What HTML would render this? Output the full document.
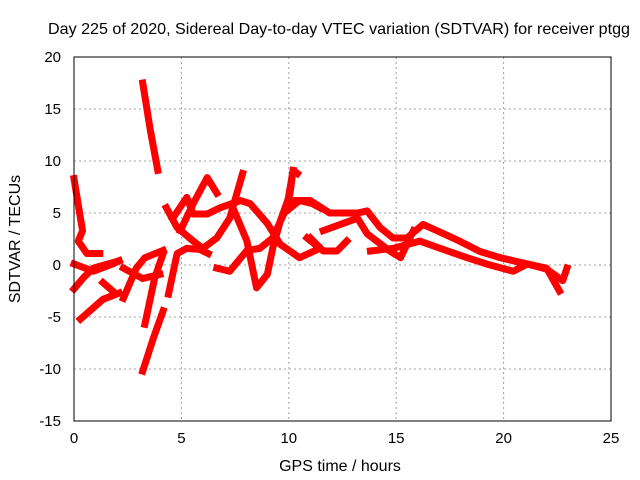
<!DOCTYPE html>
<html><head><meta charset="utf-8"><style>
body{margin:0;background:#fff}
svg{display:block;font-family:"Liberation Sans",sans-serif}
</style></head><body>
<svg width="640" height="480">
<g id="grid"></g>
<g id="series"></g>
<rect x="74" y="57" width="537" height="364" fill="none" stroke="#000" stroke-width="1"/>
<g id="ticks" font-size="15" fill="#000"></g>
<text x="339" y="34" text-anchor="middle" font-size="16" textLength="582" lengthAdjust="spacingAndGlyphs">Day 225 of 2020, Sidereal Day-to-day VTEC variation (SDTVAR) for receiver ptgg</text>
<text x="340" y="471" text-anchor="middle" font-size="16">GPS time / hours</text>
<text transform="translate(20,239) rotate(-90)" text-anchor="middle" font-size="16">SDTVAR / TECUs</text>
</svg>
<script>
const xTicks=[0,5,10,15,20,25];
const yTicks=[-15,-10,-5,0,5,10,15,20];
const trackA=[[3.2,17.5],[3.55,13],[3.9,9.1]];
const trackB=[[3.2,-10.2],[3.7,-7],[4.15,-4.4]];
const trackC=[[0,8.3],[0.3,4.5],[0.4,3.3],[0.2,2.3],[0.6,1.1],[1.2,1.1]];
const trackD=[[0,-2.3],[0.45,-1.2],[0.9,-0.3],[2.1,0.4]];
const trackE=[[0,0.1],[0.9,-0.6],[1.8,0.1],[2.1,0.4]];
const trackF=[[0.3,-5.2],[1.35,-3.3],[2.1,-2.7]];
const trackF2=[[1.35,-1.7],[1.8,-2.5]];
const trackG=[[2.3,-3.2],[2.9,-0.3],[3.3,0.7],[4.15,1.4]];
const trackH=[[3.3,-5.7],[3.75,-1.3],[4.15,1.1]];
const trackI=[[2.3,-0.3],[3.2,-1.3],[4.0,-0.9]];
const trackJ=[[4.4,-2.8],[4.8,1.1],[5.25,1.6],[5.85,1.5],[6.25,1.1]];
const trackK=[[4.3,5.5],[4.8,3.6],[5.55,2.3],[6.0,1.6],[6.65,2.6],[7.25,4.5],[7.85,8.8]];
const trackL=[[4.6,4.5],[5.25,6.5],[5.55,4.9],[6.2,4.9],[6.8,5.5],[7.75,6.2],[8.2,5.9],[9.0,4.0],[9.6,2.0],[10.5,0.7],[11.45,1.6]];
const trackM=[[4.95,3.3],[5.55,5.9],[6.2,8.4],[6.65,6.9]];
const trackN=[[6.65,-0.3],[7.25,-0.6],[8.05,1.4],[8.65,1.6],[9.25,2.6],[9.9,5.5],[10.2,9.1],[10.4,8.8]];
const trackO=[[7.4,5.5],[8.05,2.3],[8.5,-2.2],[9.0,-0.9],[9.25,1.6],[9.6,4.2],[10.05,6.8],[10.2,9.1]];
const trackP=[[9.9,5.2],[10.5,6.2],[11.1,5.9],[11.45,5.5]];
const trackQ=[[10.85,2.6],[11.45,1.6]];
const trackR=[[10.2,6.2],[11.0,6.2],[11.9,5.0],[13.2,5.0],[13.65,5.2],[14.25,3.6],[14.85,2.6],[15.5,2.6],[16.25,3.9],[16.9,3.3],[17.95,2.3],[18.9,1.3],[19.85,0.7],[21.1,0.1],[22.0,-0.4],[22.75,-1.5],[22.95,-0.3]];
const trackS=[[11.0,2.6],[11.6,1.35],[12.25,1.35],[12.7,2.3]];
const trackT=[[11.6,3.3],[13.2,4.5],[13.65,3.0],[14.7,1.35],[15.2,0.7],[15.5,2.0],[15.8,3.3]];
const trackU=[[13.8,1.35],[14.85,1.6],[16.1,2.3],[17.05,1.6],[18.3,0.7],[19.2,0.1],[20.45,-0.6],[21.1,0.1],[22.0,-0.3],[22.6,-2.5]];
const tracks=[trackA,trackB,trackC,trackD,trackE,trackF,trackF2,trackG,trackH,trackI,trackJ,trackK,trackL,trackM,trackN,trackO,trackP,trackQ,trackR,trackS,trackT,trackU];
const NS='http://www.w3.org/2000/svg';
const X0=74,X1=611,Y0=421,Y1=57;
const xs=h=>X0+(h-0)/25*(X1-X0);
const ys=v=>Y0-(v+15)/35*(Y0-Y1);
const grid=document.getElementById('grid'),ticks=document.getElementById('ticks'),ser=document.getElementById('series');
xTicks.forEach(t=>{
  if(t>0&&t<25){const l=document.createElementNS(NS,'line');
  l.setAttribute('x1',xs(t));l.setAttribute('x2',xs(t));l.setAttribute('y1',Y1);l.setAttribute('y2',Y0);
  l.setAttribute('stroke','#a0a0a0');l.setAttribute('stroke-dasharray','2,3');
  
  
  grid.appendChild(l);}
  const tx=document.createElementNS(NS,'text');
  tx.setAttribute('x',xs(t));tx.setAttribute('y',443);tx.setAttribute('text-anchor','middle');
  tx.textContent=t;
  
  
  ticks.appendChild(tx);
});
yTicks.forEach(t=>{
  if(t>-15&&t<20){const l=document.createElementNS(NS,'line');
  l.setAttribute('x1',X0);l.setAttribute('x2',X1);l.setAttribute('y1',ys(t));l.setAttribute('y2',ys(t));
  l.setAttribute('stroke','#a0a0a0');l.setAttribute('stroke-dasharray','2,3');
  
  
  grid.appendChild(l);}
  const tx=document.createElementNS(NS,'text');
  tx.setAttribute('x',61);tx.setAttribute('y',ys(t)+5);tx.setAttribute('text-anchor','end');
  tx.textContent=t;
  
  
  ticks.appendChild(tx);
});
tracks.forEach(tr=>{
  const p=document.createElementNS(NS,'polyline');
  p.setAttribute('points',tr.map(d=>xs(d[0])+','+ys(d[1])).join(' '));
  p.setAttribute('fill','none');p.setAttribute('stroke','#ff0000');p.setAttribute('stroke-width','7');
  p.setAttribute('stroke-linejoin','round');p.setAttribute('stroke-linecap','square');
  
  
  ser.appendChild(p);
});
</script>
</body></html>
